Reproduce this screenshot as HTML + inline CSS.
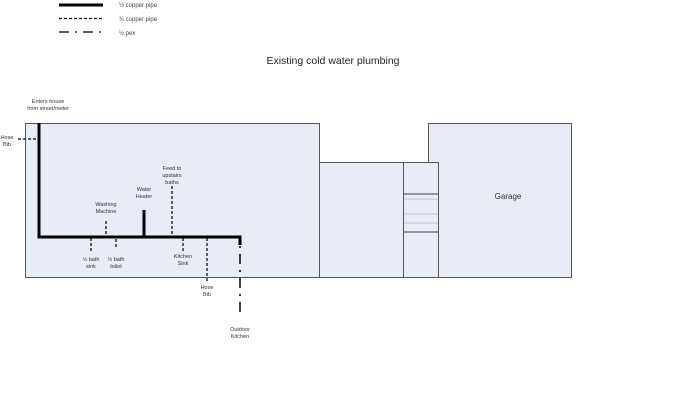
<!DOCTYPE html>
<html><head><meta charset="utf-8"><style>
html,body{margin:0;padding:0;background:#fff;}
svg{display:block;font-family:"Liberation Sans",sans-serif;}
</style></head><body>
<svg width="700" height="418" viewBox="0 0 700 418" xmlns="http://www.w3.org/2000/svg">
<rect width="700" height="418" fill="#fff"/>
<!-- legend -->
<line x1="59" y1="5" x2="103" y2="5" stroke="#000" stroke-width="3"/>
<line x1="59" y1="18.5" x2="103" y2="18.5" stroke="#000" stroke-width="1.2" stroke-dasharray="3,2"/>
<line x1="59" y1="32" x2="103" y2="32" stroke="#000" stroke-width="1.3" stroke-dasharray="10,6,2,6"/>
<g font-size="6" fill="#444">
<text x="119" y="7">½ copper pipe</text>
<text x="119" y="21">¾ copper pipe</text>
<text x="119" y="35">½ pex</text>
</g>
<text x="333" y="64" font-size="10.5" text-anchor="middle" fill="#222">Existing cold water plumbing</text>
<!-- buildings -->
<g fill="#e7ecf6" stroke="#555" stroke-width="1">
<rect x="25.5" y="123.5" width="294" height="154"/>
<rect x="428.5" y="123.5" width="143" height="154"/>
<rect x="319.5" y="162.5" width="84" height="115"/>
<rect x="403.5" y="162.5" width="35" height="115"/>
</g>
<g stroke="#444" stroke-width="1"><line x1="403" y1="194" x2="439" y2="194"/><line x1="403" y1="232" x2="439" y2="232"/></g>
<g stroke="#bbb" stroke-width="0.7"><line x1="404" y1="199" x2="438" y2="199"/><line x1="404" y1="214" x2="438" y2="214"/><line x1="404" y1="223" x2="438" y2="223"/></g>
<text x="508" y="199" font-size="8" text-anchor="middle" fill="#333">Garage</text>
<!-- pipes -->
<g stroke="#000" fill="none">
<polyline points="39,123 39,237 240,237 240,245" stroke-width="3"/>
<line x1="144" y1="210" x2="144" y2="237" stroke-width="3"/>
<g stroke-width="1.2" stroke-dasharray="3,2">
<line x1="18" y1="139" x2="38" y2="139"/>
<line x1="106" y1="221" x2="106" y2="236"/>
<line x1="172" y1="186" x2="172" y2="236"/>
<line x1="91" y1="238" x2="91" y2="251"/>
<line x1="116" y1="239" x2="116" y2="247"/>
<line x1="183" y1="238" x2="183" y2="251"/>
<line x1="207" y1="238" x2="207" y2="283"/>
</g>
<line x1="240" y1="246" x2="240" y2="316" stroke-width="1.5" stroke-dasharray="2,6,10,6"/>
</g>
<g font-size="5.5" fill="#333" text-anchor="middle">
<text x="48" y="103">Enters house</text><text x="48" y="110">from street/meter</text>
<text x="7" y="139">Hose</text><text x="7" y="146">Bib</text>
<text x="106" y="206">Washing</text><text x="106" y="213">Machine</text>
<text x="144" y="191">Water</text><text x="144" y="198">Heater</text>
<text x="172" y="170">Feed to</text><text x="172" y="177">upstairs</text><text x="172" y="184">baths</text>
<text x="91" y="261">½ bath</text><text x="91" y="268">sink</text>
<text x="116" y="261">½ bath</text><text x="116" y="268">toilet</text>
<text x="183" y="258">Kitchen</text><text x="183" y="265">Sink</text>
<text x="207" y="289">Hose</text><text x="207" y="296">Bib</text>
<text x="240" y="331">Outdoor</text><text x="240" y="338">Kitchen</text>
</g>
</svg>
</body></html>
